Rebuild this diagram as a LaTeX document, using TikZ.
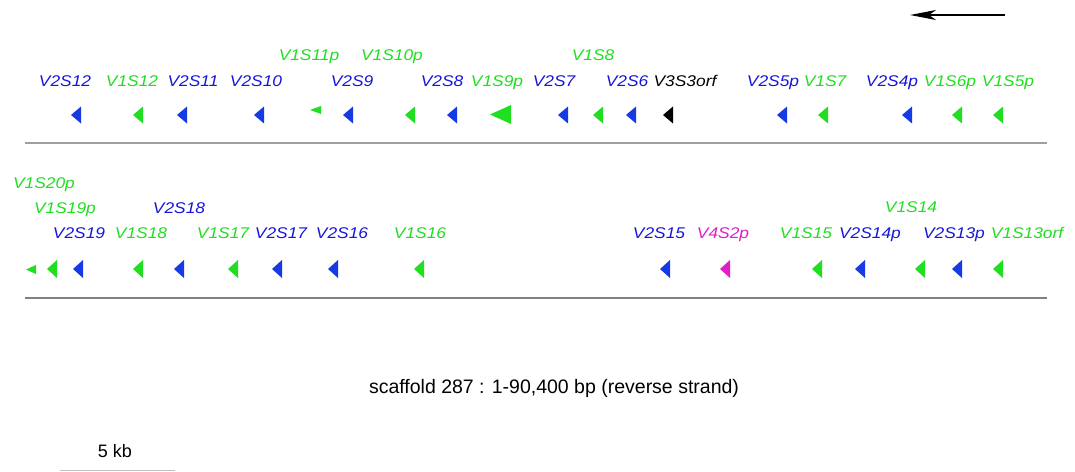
\documentclass[tikz,border=0pt]{standalone}
\usepackage{fontspec}
\setmainfont{Liberation Sans}
\newfontfamily\genefont[FakeStretch=1.12]{Liberation Sans}
\usetikzlibrary{arrows.meta}

\definecolor{vblue}{RGB}{22,58,228}
\definecolor{vnavy}{RGB}{22,22,218}
\definecolor{vgreen}{RGB}{32,222,32}
\definecolor{vpink}{RGB}{226,28,200}

\begin{document}
\begin{tikzpicture}[x=1pt, y=-1pt,
    lbl/.style={anchor=base, inner sep=0pt, font=\genefont\itshape\fontsize{15.5}{18}\selectfont},
    strand/.style={draw=gray!75, line width=1.5pt}]
    \useasboundingbox (0,0) rectangle (1075,471);

    % direction of transcription
    \coordinate (dirR) at (1005,15);
    \coordinate (dirL) at (910,15);
    \draw[line width=1.3pt, -{Stealth[length=26pt, width=10pt, inset=7pt]}] (dirR) -- (dirL);

    % first block: labels
    \foreach \x/\y/\t/\c [count=\i] in {65/86/V2S12/vnavy, 132/86/V1S12/vgreen, 193/86/V2S11/vnavy,
        256/86/V2S10/vnavy, 309/60/V1S11p/vgreen, 352/86/V2S9/vnavy, 392/60/V1S10p/vgreen,
        442/86/V2S8/vnavy, 497/86/V1S9p/vgreen, 554/86/V2S7/vnavy, 593/60/V1S8/vgreen,
        627/86/V2S6/vnavy, 685/86/V3S3orf/black, 773/86/V2S5p/vnavy, 825/86/V1S7/vgreen,
        892/86/V2S4p/vnavy, 950/86/V1S6p/vgreen, 1008/86/V1S5p/vgreen}
        \node[lbl, text=\c] (a\i) at (\x,\y) {\t};

    % first block: genes
    \foreach \tx/\c in {71/vblue, 133/vgreen, 177/vblue, 254/vblue, 343/vblue, 405/vgreen,
        447/vblue, 558/vblue, 593/vgreen, 626/vblue, 663/black, 777/vblue, 818/vgreen,
        902/vblue, 952/vgreen, 993/vgreen}
        \fill[\c] (\tx,115) -- ++(10,-8.5) -- ++(0,17) -- cycle;
    \fill[vgreen] (310,110) -- ++(11,-4) -- ++(0,8) -- cycle;
    \fill[vgreen] (490,114.5) -- ++(21,-9.5) -- ++(0,19) -- cycle;

    \coordinate (s1) at (25,143);
    \coordinate (e1) at (1047,143);
    \draw[strand] (s1) -- (e1);

    % second block: labels
    \foreach \x/\y/\t/\c [count=\i] in {44/188/V1S20p/vgreen, 65/213/V1S19p/vgreen,
        179/213/V2S18/vnavy, 79/238/V2S19/vnavy, 141/238/V1S18/vgreen, 223/238/V1S17/vgreen,
        281/238/V2S17/vnavy, 342/238/V2S16/vnavy, 420/238/V1S16/vgreen, 911/212/V1S14/vgreen,
        659/238/V2S15/vnavy, 723/238/V4S2p/vpink, 806/238/V1S15/vgreen, 870/238/V2S14p/vnavy,
        954/238/V2S13p/vnavy, 1027/238/V1S13orf/vgreen}
        \node[lbl, text=\c] (b\i) at (\x,\y) {\t};

    % second block: genes
    \foreach \tx/\c in {47/vgreen, 73/vblue, 133/vgreen, 174/vblue, 228/vgreen, 272/vblue,
        328/vblue, 414/vgreen, 660/vblue, 720/vpink, 812/vgreen, 855/vblue, 915/vgreen,
        952/vblue, 993/vgreen}
        \fill[\c] (\tx,269) -- ++(10,-9) -- ++(0,18) -- cycle;
    \fill[vgreen] (26,269.5) -- ++(10,-4.5) -- ++(0,9) -- cycle;

    \coordinate (s2) at (25,298);
    \coordinate (e2) at (1047,298);
    \draw[strand, draw=gray] (s2) -- (e2);

    % caption and scale
    \node[anchor=base, inner sep=0pt, font=\fontsize{19.5}{22}\selectfont] (title) at (554,393)
        {scaffold 287 : 1-90,400 bp (reverse strand)};
    \node[anchor=base, inner sep=0pt, font=\fontsize{18}{20}\selectfont] (kb) at (115,457) {5 kb};
    \coordinate (bar0) at (60,470.3);
    \coordinate (bar1) at (175,470.3);
    \draw[gray!50, line width=1.2pt] (bar0) -- (bar1);
\end{tikzpicture}
\end{document}
